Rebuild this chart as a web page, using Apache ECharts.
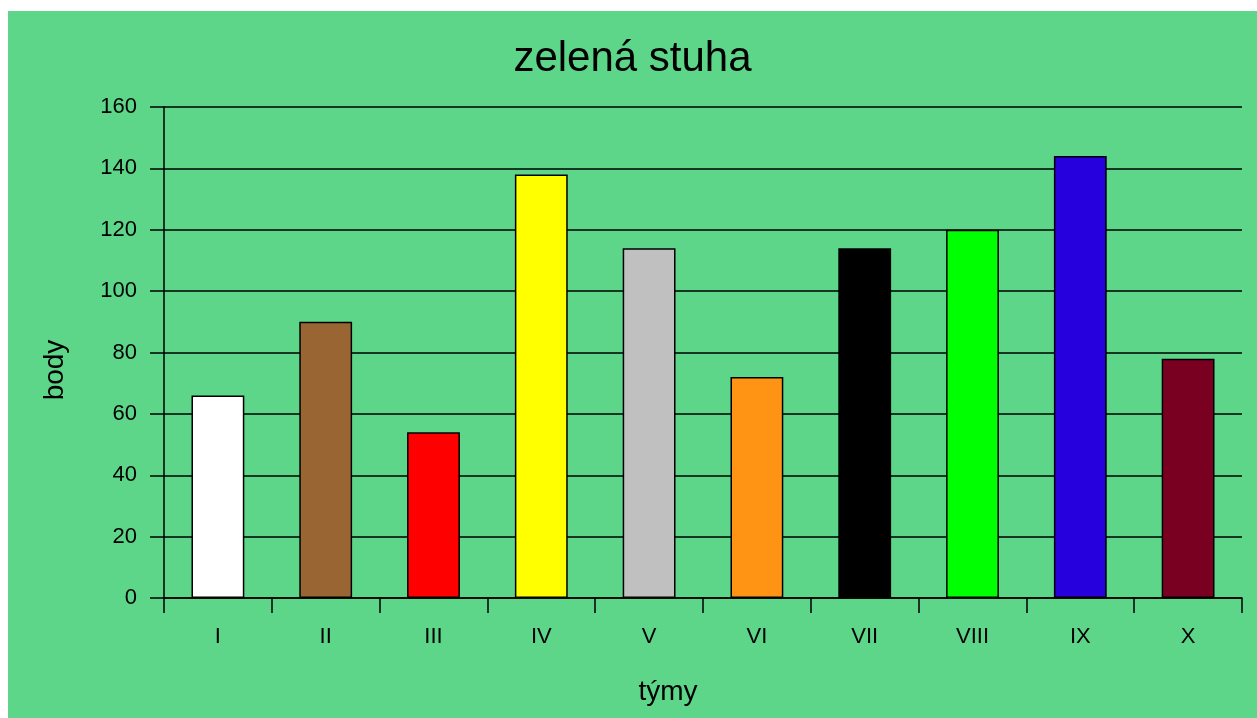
<!DOCTYPE html>
<html>
<head>
<meta charset="utf-8">
<script src="https://cdn.jsdelivr.net/npm/echarts@6/dist/echarts.min.js"></script>
<style>
html,body{margin:0;padding:0;background:#fff;width:1257px;height:718px;overflow:hidden;}
#chart{position:absolute;left:8px;top:11px;width:1249px;height:707px;background:#5DD689;}
</style>
</head>
<body>
<div id="chart"></div>
<script>
const titleText = 'zelená stuha';
const xName = 'týmy';
const yName = 'body';
const categories = ['I','II','III','IV','V','VI','VII','VIII','IX','X'];
const values = [66, 90, 54, 138, 114, 72, 114, 120, 144, 78];
const barColors = ['#FFFFFF','#996633','#FF0000','#FFFF00','#C0C0C0','#FF9414','#000000','#00FF00','#2600DD','#7A0022'];

const FONT = 'Liberation Sans, Arial, sans-serif';
const chart = echarts.init(document.getElementById('chart'), null, {renderer:'canvas'});
chart.setOption({
  animation:false,
  backgroundColor:'#5DD689',
  title:{
    text:titleText, left:'center', top:22,
    textStyle:{fontFamily:FONT, fontSize:42, fontWeight:'normal', color:'#000'}
  },
  grid:{left:156, right:15, top:96, bottom:120, containLabel:false},
  xAxis:{
    type:'category', data:categories,
    axisLine:{show:true, lineStyle:{color:'#000', width:1.5}},
    axisTick:{show:true, inside:false, length:15, lineStyle:{color:'#000', width:1.5}},
    axisLabel:{margin:28, fontFamily:FONT, fontSize:22, color:'#000'},
    splitLine:{show:false}
  },
  yAxis:{
    type:'value', min:0, max:160, interval:20,
    axisLine:{show:true, lineStyle:{color:'#000', width:1.5}},
    axisTick:{show:true, inside:false, length:14, lineStyle:{color:'#000', width:1.5}},
    axisLabel:{margin:27, fontFamily:FONT, fontSize:22, color:'#000'},
    splitLine:{show:true, lineStyle:{color:'#000', width:1.5}}
  },
  graphic:[
    {type:'text', x:660, y:681, style:{text:xName, font:'28px ' + FONT, fill:'#000', textAlign:'center', textVerticalAlign:'middle'}},
    {type:'text', x:47, y:359, rotation:Math.PI/2, style:{text:yName, font:'28px ' + FONT, fill:'#000', textAlign:'center', textVerticalAlign:'middle'}}
  ],
  series:[{
    type:'bar', barWidth:'49%',
    data: values.map((v,i)=>({value:v, itemStyle:{color:barColors[i]}})),
    itemStyle:{borderColor:'#000', borderWidth:1.5}
  }]
});
</script>
</body>
</html>
